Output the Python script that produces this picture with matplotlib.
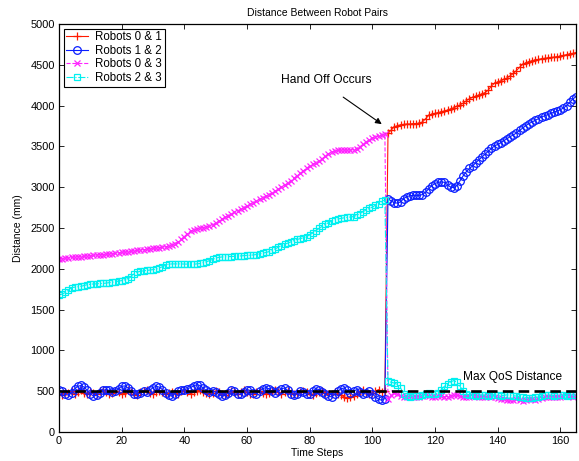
import numpy as np
import matplotlib
matplotlib.use("Agg")
from matplotlib import pyplot as plt

plt.rcParams['font.family'] = ['Liberation Sans', 'DejaVu Sans']
plt.rcParams['font.size'] = 7.5

# time steps 0..165
steps = list(range(166))

# Robots 0 & 1 (before / after hand off)
robots_01 = [
    470, 455, 490, 480, 500, 465, 485, 510, 475, 460,
    495, 480, 470, 505, 520, 485, 460, 475, 500, 490,
    465, 480, 510, 495, 470, 455, 485, 500, 520, 480,
    470, 490, 505, 485, 460, 475, 495, 480, 470, 500,
    515, 490, 470, 485, 500, 520, 495, 475, 460, 480,
    505, 490, 470, 455, 480, 500, 485, 470, 495, 510,
    485, 470, 460, 490, 505, 480, 465, 475, 500, 515,
    490, 470, 485, 500, 475, 460, 480, 495, 505, 485,
    470, 455, 475, 490, 500, 480, 465, 470, 485, 470,
    450, 430, 420, 435, 445, 460, 495, 510, 485, 470,
    480, 500, 520, 490, 500,
    3660, 3700, 3740, 3755, 3765, 3770, 3775, 3775, 3780, 3780,
    3785, 3800, 3840, 3880, 3895, 3905, 3915, 3925, 3935, 3945,
    3960, 3975, 3990, 4010, 4030, 4060, 4085, 4100, 4115, 4130,
    4145, 4160, 4190, 4240, 4275, 4290, 4305, 4320, 4340, 4365,
    4395, 4430, 4470, 4505, 4525, 4540, 4550, 4560, 4565, 4575,
    4580, 4585, 4590, 4595, 4600, 4605, 4615, 4625, 4635, 4640,
    4650,
]

# Robots 1 & 2
robots_12 = [
    510, 500, 470, 450, 480, 530, 560, 570, 550, 510,
    470, 440, 450, 480, 510, 520, 510, 490, 500, 530,
    560, 565, 540, 500, 470, 460, 480, 500, 490, 510,
    545, 560, 550, 520, 480, 450, 440, 470, 500, 510,
    520, 530, 545, 565, 580, 570, 540, 510, 490, 500,
    490, 460, 440, 450, 480, 510, 500, 470, 460, 490,
    520, 510, 480, 470, 500, 530, 545, 530, 500, 480,
    500, 530, 540, 510, 470, 450, 470, 500, 490, 460,
    470, 500, 530, 520, 490, 460, 440, 430, 460, 500,
    530, 540, 510, 480, 500, 520, 490, 470, 480, 500,
    470, 430, 400, 390, 410,
    2860, 2830, 2810, 2805, 2820, 2860, 2885, 2895, 2900, 2900,
    2900, 2910, 2940, 2980, 3020, 3045, 3060, 3065, 3060, 3030,
    3000, 2995, 3020, 3080, 3140, 3190, 3230, 3260, 3300, 3335,
    3370, 3405, 3440, 3475, 3505, 3525, 3545, 3570, 3595, 3620,
    3640, 3665, 3695, 3725, 3755, 3780, 3800, 3820, 3840, 3860,
    3875, 3890, 3905, 3920, 3935, 3950, 3970, 4000, 4040, 4080,
    4110,
]

# Robots 0 & 3
robots_03 = [
    2120, 2125, 2130, 2135, 2140, 2145, 2150, 2150, 2155, 2160,
    2160, 2165, 2170, 2170, 2175, 2180, 2180, 2185, 2190, 2195,
    2200, 2205, 2210, 2215, 2220, 2225, 2230, 2235, 2240, 2245,
    2250, 2255, 2260, 2265, 2270, 2280, 2295, 2310, 2330, 2360,
    2395, 2430, 2460, 2480, 2490, 2500, 2505, 2515, 2525, 2540,
    2560, 2585, 2610, 2630, 2650, 2670, 2690, 2710, 2730, 2750,
    2770, 2790, 2810, 2830, 2850, 2870, 2890, 2910, 2930, 2950,
    2975, 3000, 3025, 3050, 3080, 3110, 3140, 3170, 3200, 3230,
    3260, 3280, 3300, 3320, 3350, 3380, 3410, 3430, 3445, 3450,
    3455, 3455, 3455, 3455, 3460, 3470, 3495, 3525, 3555, 3580,
    3600, 3615, 3625, 3640, 3650,
    400, 450, 480, 460, 440, 430, 435, 440, 430, 425,
    435, 445, 450, 440, 430, 435, 445, 440, 430, 435,
    445, 455, 450, 440, 430, 425, 435, 445, 440, 430,
    425, 430, 440, 435, 425, 415, 410, 400, 395, 390,
    395, 400, 390, 385, 395, 405, 400, 390, 400, 415,
    425, 430, 435, 430, 425, 430, 440, 445, 440, 435,
    440,
]

# Robots 2 & 3
robots_23 = [
    1680, 1690, 1710, 1740, 1770, 1775, 1780, 1785, 1795, 1805,
    1810, 1815, 1815, 1820, 1820, 1825, 1830, 1835, 1840, 1850,
    1855, 1865, 1880, 1900, 1940, 1960, 1970, 1975, 1980, 1985,
    1990, 1995, 2010, 2025, 2045, 2055, 2060, 2060, 2060, 2060,
    2058, 2058, 2056, 2056, 2060, 2065, 2075, 2085, 2100, 2115,
    2130, 2140, 2145, 2148, 2150, 2150, 2152, 2155, 2158, 2160,
    2163, 2166, 2170, 2175, 2182, 2190, 2200, 2210, 2225, 2245,
    2265, 2285, 2300, 2315, 2330, 2345, 2360, 2370, 2380, 2395,
    2415, 2440, 2465, 2495, 2520, 2545, 2565, 2585, 2600, 2610,
    2618, 2625, 2630, 2635, 2640, 2655, 2675, 2700, 2720, 2740,
    2755, 2780, 2800, 2825, 2845,
    620, 610, 600, 580, 540, 470, 440, 435, 440, 445,
    440, 450, 465, 475, 470, 460, 480, 520, 560, 590,
    615, 630, 610, 560, 500, 465, 455, 450, 445, 450,
    455, 450, 445, 450, 455, 450, 445, 450, 455, 450,
    445, 440, 435, 425, 420, 415, 420, 425, 430, 440,
    450, 455, 450, 445, 450, 455, 450, 445, 450, 455,
    450,
]

qos_limit = 500

fig = plt.figure(figsize=(5.79, 4.61), dpi=100)
ax = fig.add_axes([59 / 579, 29 / 461, 517 / 579, 408 / 461])

ax.plot(steps, robots_01, linestyle='-', color='#ff1a00', lw=0.8, marker='+',
        ms=6, mew=0.9, label='Robots 0 & 1')
ax.plot(steps, robots_12, linestyle='-', color='#0a1eff', lw=0.8, marker='o',
        ms=5.5, mew=0.9, mfc='none', label='Robots 1 & 2')
ax.plot(steps, robots_03, linestyle='--', color='#ff22ff', lw=0.8, marker='x',
        ms=4, mew=0.9, label='Robots 0 & 3')
ax.plot(steps, robots_23, linestyle='-.', color='#00f0f0', lw=0.8, marker='s',
        ms=4.8, mew=0.9, mfc='none', label='Robots 2 & 3')
ax.axhline(qos_limit, color='k', ls=(0, (4, 2)), lw=1.9)

ax.text(128.8, 674, 'Max QoS Distance', ha='left', va='center', fontsize=8.6)
ax.text(85.3, 4312, 'Hand Off Occurs', ha='center', va='center', fontsize=8.7)
ax.annotate('', xy=(103.0, 3773), xytext=(90.7, 4104),
            arrowprops=dict(arrowstyle='-|>', color='k', lw=0.8,
                            mutation_scale=9, shrinkA=0, shrinkB=0))

ax.set_xlim(0, 165)
ax.set_ylim(0, 5000)
ax.set_xticks(range(0, 161, 20))
ax.set_yticks(range(0, 5001, 500))
ax.tick_params(direction='in', top=True, right=True, length=3.6, width=0.6,
               pad=3, labelsize=7.9)
for s in ax.spines.values():
    s.set_linewidth(0.9)

ax.set_title('Distance Between Robot Pairs', fontsize=7.5, pad=6)
ax.set_xlabel('Time Steps', labelpad=1)
ax.set_ylabel('Distance (mm)', labelpad=5)

leg = ax.legend(loc='upper left', fancybox=False, framealpha=1, edgecolor='k',
                borderaxespad=0.4, handlelength=1.9, handletextpad=0.6,
                labelspacing=0.12, borderpad=0.25, fontsize=8.3)
leg.get_frame().set_linewidth(0.8)

plt.savefig('out.png', dpi=100)
